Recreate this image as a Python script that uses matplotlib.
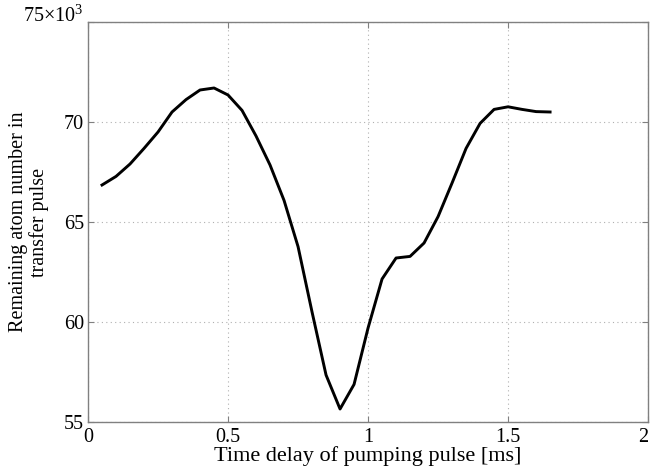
import matplotlib.pyplot as plt
import numpy as np

plt.rcParams.update({
    'font.family': ['Liberation Serif', 'DejaVu Serif'],
    'font.size': 14.5,
    'mathtext.fontset': 'custom',
    'mathtext.rm': 'Liberation Serif',
    'mathtext.it': 'Liberation Serif:italic',
    'mathtext.bf': 'Liberation Serif:bold',
    'xtick.direction': 'in',
    'ytick.direction': 'in',
})

# Time delay [ms] and remaining atom number [x10^3]
delay_ms = [0.05, 0.10, 0.15, 0.20, 0.25, 0.30, 0.35, 0.40, 0.45, 0.50,
            0.55, 0.60, 0.65, 0.70, 0.75, 0.80, 0.85, 0.90, 0.95, 1.00,
            1.05, 1.10, 1.15, 1.20, 1.25, 1.30, 1.35, 1.40, 1.45, 1.50,
            1.55, 1.60, 1.65]
atoms_k = [66.85, 67.28, 67.90, 68.68, 69.50, 70.50, 71.12, 71.60, 71.70, 71.35,
           70.58, 69.30, 67.85, 66.08, 63.77, 60.50, 57.35, 55.65, 56.88, 59.70,
           62.15, 63.20, 63.28, 63.95, 65.27, 66.95, 68.68, 69.93, 70.63, 70.76,
           70.63, 70.52, 70.50]

x_ticks = [0, 0.5, 1, 1.5, 2]
x_tick_labels = ['0', '0.5', '1', '1.5', '2']
y_ticks = [55, 60, 65, 70, 75]
y_tick_labels = ['55', '60', '65', '70', r'75×10$^{\mathrm{3}}$']


def plot_data():
    fig = plt.figure(figsize=(6.52, 4.73), dpi=100)
    ax = fig.add_axes([0.135, 0.1078, 0.859, 0.8457])

    ax.plot(delay_ms, atoms_k, '-', color='black', lw=2.1)

    ax.set_xlim(0, 2)
    ax.set_ylim(55, 75)
    ax.set_xticks(x_ticks)
    ax.set_xticklabels(x_tick_labels)
    ax.set_yticks(y_ticks)
    ax.set_yticklabels(y_tick_labels)
    ax.tick_params(top=True, right=True, colors='#808080', labelcolor='black',
                   length=4, width=0.8)
    ax.tick_params(axis='x', pad=4)
    ax.tick_params(axis='y', pad=3)

    # Matlab-like placement of the exponent label and the last x label
    ax.get_yticklabels()[-1].set_va('baseline')
    ax.get_xticklabels()[-1].set_ha('right')

    for s in ax.spines.values():
        s.set_color('#808080')
        s.set_linewidth(1.0)

    ax.grid(True, linestyle=(0, (1, 3)), color='#b0b0b0', linewidth=0.8)

    ax.set_xlabel('Time delay of pumping pulse [ms]', fontsize=16)
    ax.xaxis.set_label_coords(0.5, -0.061)
    ax.set_ylabel('Remaining atom number in\ntransfer pulse', linespacing=1.05)
    ax.yaxis.set_label_coords(-0.07, 0.5)

    fig.savefig('out.png', dpi=100)
    plt.close(fig)


if __name__ == '__main__':
    plot_data()
